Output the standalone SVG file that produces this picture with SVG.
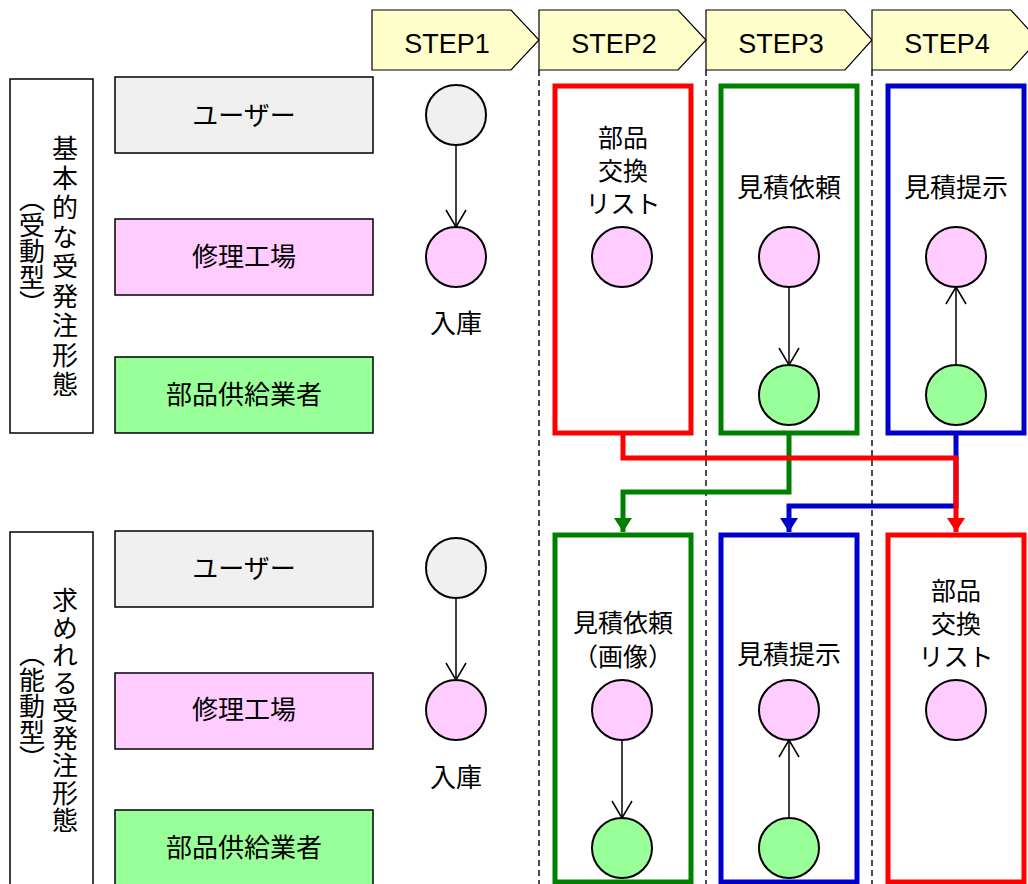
<svg xmlns="http://www.w3.org/2000/svg" width="1028" height="884" viewBox="0 0 1028 884">
<style>
.jp{font-family:"Noto Sans CJK JP","Noto Sans",sans-serif;font-size:26px;fill:#000;text-anchor:middle}
.jpm{font-family:"Noto Sans CJK JP","Noto Sans",sans-serif;font-size:25px;fill:#000;text-anchor:middle}
.step{font-family:"Liberation Sans",Arial,sans-serif;font-size:27px;fill:#000;text-anchor:middle}
.vt{font-family:"Noto Sans CJK JP",sans-serif;font-size:26px;fill:#000;text-anchor:middle;writing-mode:vertical-rl}
.hdr{fill:#ffffcc;stroke:#000;stroke-width:1.2}
.grp{fill:#fff;stroke:#000;stroke-width:1.5}
.lane{stroke:#000;stroke-width:1.5}
.gray{fill:#f0f0f0}
.pink{fill:#ffccff}
.green{fill:#99ff99}
.node{stroke:#000;stroke-width:2}
.frame{fill:none;stroke-width:5}
.dash{stroke:#000;stroke-width:1.4;stroke-dasharray:6 4;fill:none}
.flow{fill:none;stroke:#000;stroke-width:1.5}
.conn{fill:none;stroke-width:5;stroke-linejoin:miter}
</style>
<defs>
<marker id="open" markerUnits="userSpaceOnUse" markerWidth="20" markerHeight="22" refX="17" refY="10" orient="auto" overflow="visible">
<path d="M0,0 L17,10 L0,20" fill="none" stroke="#000" stroke-width="1.5"/>
</marker>
<marker id="triR" markerUnits="userSpaceOnUse" markerWidth="16" markerHeight="20" refX="14" refY="9" orient="auto" overflow="visible">
<path d="M0,0 L14,9 L0,18 z" fill="#ff0000"/>
</marker>
<marker id="triG" markerUnits="userSpaceOnUse" markerWidth="16" markerHeight="20" refX="14" refY="9" orient="auto" overflow="visible">
<path d="M0,0 L14,9 L0,18 z" fill="#008000"/>
</marker>
<marker id="triB" markerUnits="userSpaceOnUse" markerWidth="16" markerHeight="20" refX="14" refY="9" orient="auto" overflow="visible">
<path d="M0,0 L14,9 L0,18 z" fill="#0000cc"/>
</marker>
</defs>
<rect width="1028" height="884" fill="#fff"/>

<g id="dividers">
<line class="dash" x1="539" y1="70" x2="539" y2="884"/>
<line class="dash" x1="706" y1="70" x2="706" y2="884"/>
<line class="dash" x1="872" y1="70" x2="872" y2="884"/>
</g>

<g id="step1"><polygon class="hdr" points="372,10 511,10 539,40 511,70 372,70"/><text class="step" x="447" y="53">STEP1</text></g>
<g id="step2"><polygon class="hdr" points="539,10 678,10 706,40 678,70 539,70"/><text class="step" x="614" y="53">STEP2</text></g>
<g id="step3"><polygon class="hdr" points="706,10 845,10 872,40 845,70 706,70"/><text class="step" x="781" y="53">STEP3</text></g>
<g id="step4"><polygon class="hdr" points="872,10 1011,10 1038,40 1011,70 872,70"/><text class="step" x="947" y="53">STEP4</text></g>

<g id="group-basic">
<rect class="grp" x="10" y="79" width="83" height="354"/>
<text class="vt" x="65" y="268" letter-spacing="3.5">基本的な受発注形態</text>
<text class="vt" x="32" y="251">（受動型）</text>
</g>
<g id="group-active">
<rect class="grp" x="10" y="532" width="83" height="362"/>
<text class="vt" x="65" y="711" letter-spacing="1.5">求めれる受発注形態</text>
<text class="vt" x="32" y="706">（能動型）</text>
</g>

<g id="lane-user-1"><rect class="lane gray" x="115" y="77" width="258" height="76"/><text class="jp" x="244" y="125">ユーザー</text></g>
<g id="lane-shop-1"><rect class="lane pink" x="115" y="219" width="258" height="76"/><text class="jp" x="244" y="266">修理工場</text></g>
<g id="lane-supplier-1"><rect class="lane green" x="115" y="357" width="258" height="76"/><text class="jp" x="244" y="404">部品供給業者</text></g>
<g id="lane-user-2"><rect class="lane gray" x="115" y="531" width="258" height="76"/><text class="jp" x="244" y="578">ユーザー</text></g>
<g id="lane-shop-2"><rect class="lane pink" x="115" y="673" width="258" height="76"/><text class="jp" x="244" y="719">修理工場</text></g>
<g id="lane-supplier-2"><rect class="lane green" x="115" y="810" width="258" height="80"/><text class="jp" x="244" y="857">部品供給業者</text></g>

<g id="s1-top">
<circle class="node gray" cx="456" cy="115" r="30"/>
<circle class="node pink" cx="456" cy="257" r="30"/>
<line class="flow" x1="456" y1="145" x2="456" y2="227" marker-end="url(#open)"/>
<text class="jp" x="456" y="333">入庫</text>
</g>
<g id="s2-top">
<rect class="frame" stroke="#ff0000" x="555" y="86" width="136" height="347"/>
<text class="jpm" x="623" y="147"><tspan x="623" y="147">部品</tspan><tspan x="623" y="180">交換</tspan><tspan x="623" y="213">リスト</tspan></text>
<circle class="node pink" cx="622" cy="257" r="30"/>
</g>
<g id="s3-top">
<rect class="frame" stroke="#008000" x="721" y="86" width="136" height="347"/>
<text class="jp" x="789" y="197">見積依頼</text>
<circle class="node pink" cx="789" cy="257" r="30"/>
<circle class="node green" cx="789" cy="395" r="30"/>
<line class="flow" x1="789" y1="287" x2="789" y2="365" marker-end="url(#open)"/>
</g>
<g id="s4-top">
<rect class="frame" stroke="#0000cc" x="888" y="86" width="136" height="347"/>
<text class="jp" x="956" y="197">見積提示</text>
<circle class="node pink" cx="956" cy="257" r="30"/>
<circle class="node green" cx="956" cy="395" r="30"/>
<line class="flow" x1="956" y1="365" x2="956" y2="287" marker-end="url(#open)"/>
</g>

<g id="s1-bottom">
<circle class="node gray" cx="456" cy="568" r="30"/>
<circle class="node pink" cx="456" cy="710" r="30"/>
<line class="flow" x1="456" y1="598" x2="456" y2="680" marker-end="url(#open)"/>
<text class="jp" x="456" y="787">入庫</text>
</g>
<g id="s2-bottom">
<rect class="frame" stroke="#008000" x="555" y="535" width="136" height="347"/>
<text class="jpm" x="623" y="632"><tspan x="623" y="632">見積依頼</tspan><tspan x="623" y="666">（画像）</tspan></text>
<circle class="node pink" cx="622" cy="710" r="30"/>
<circle class="node green" cx="622" cy="848" r="30"/>
<line class="flow" x1="622" y1="740" x2="622" y2="818" marker-end="url(#open)"/>
</g>
<g id="s3-bottom">
<rect class="frame" stroke="#0000cc" x="721" y="535" width="136" height="347"/>
<text class="jp" x="789" y="664">見積提示</text>
<circle class="node pink" cx="789" cy="710" r="30"/>
<circle class="node green" cx="789" cy="848" r="30"/>
<line class="flow" x1="789" y1="818" x2="789" y2="740" marker-end="url(#open)"/>
</g>
<g id="s4-bottom">
<rect class="frame" stroke="#ff0000" x="888" y="535" width="136" height="347"/>
<text class="jpm" x="956" y="600"><tspan x="956" y="600">部品</tspan><tspan x="956" y="633">交換</tspan><tspan x="956" y="666">リスト</tspan></text>
<circle class="node pink" cx="956" cy="710" r="30"/>
</g>

<g id="connectors">
<path class="conn" stroke="#0000cc" d="M956,433 V506 H789 V532" marker-end="url(#triB)"/>
<path class="conn" stroke="#008000" d="M789,433 V492 H623 V532" marker-end="url(#triG)"/>
<path class="conn" stroke="#ff0000" d="M623,433 V458 H956 V532" marker-end="url(#triR)"/>
</g>
</svg>
